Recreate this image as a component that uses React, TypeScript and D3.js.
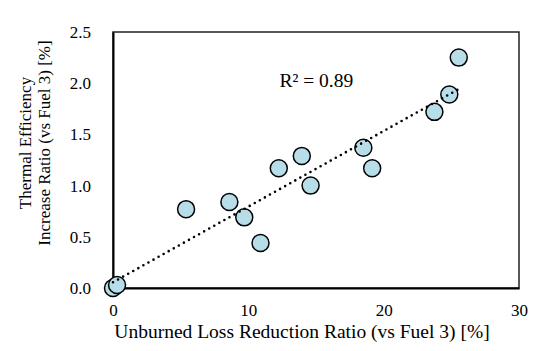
import React, { useEffect, useRef } from 'react'
import * as d3 from 'd3'

// unburned loss reduction ratio vs Fuel 3 [%]
const unburnedReduction = [0, 0.3, 5.4, 8.6, 9.7, 10.9, 12.25, 13.95, 14.6, 18.5, 19.15, 23.75, 24.85, 25.55]
// thermal efficiency increase ratio vs Fuel 3 [%]
const efficiencyIncrease = [0, 0.03, 0.77, 0.84, 0.69, 0.44, 1.17, 1.29, 1.0, 1.37, 1.17, 1.72, 1.89, 2.25]

const xTicks = [0, 10, 20, 30]
const yTicks = [0, 0.5, 1.0, 1.5, 2.0, 2.5]
const r2Label = 'R² = 0.89'
const xTitle = 'Unburned Loss Reduction Ratio (vs Fuel 3) [%]'
const yTitleLines = ['Thermal Efficiency', 'Increase Ratio (vs Fuel 3) [%]']

const width = 552
const height = 351
const font = '"Liberation Serif", "Times New Roman", serif'

const App = () => {
    const ref = useRef(null)

    useEffect(() => {
        const svg = d3.select(ref.current)
        svg.selectAll('*').remove()

        const margin = { top: 32, right: 33, bottom: 63, left: 113 }
        const innerWidth = width - margin.left - margin.right
        const innerHeight = height - margin.top - margin.bottom

        const x = d3.scaleLinear().domain([0, 30]).range([0, innerWidth])
        const y = d3.scaleLinear().domain([0, 2.5]).range([innerHeight, 0])

        const data = unburnedReduction.map((v, i) => ({ x: v, y: efficiencyIncrease[i] }))

        const g = svg.append('g')
            .attr('transform', `translate(${margin.left}, ${margin.top})`)

        // plot area border
        g.append('rect')
            .attr('width', innerWidth)
            .attr('height', innerHeight)
            .attr('fill', 'none')
            .attr('stroke', '#222')
            .attr('stroke-width', 1.5)

        // axes without tick marks
        const yAxisG = g.append('g')
            .call(d3.axisLeft(y).tickValues(yTicks).tickFormat(d3.format('.1f')).tickSize(0).tickPadding(22))
        const xAxisG = g.append('g')
            .attr('transform', `translate(0, ${innerHeight})`)
            .call(d3.axisBottom(x).tickValues(xTicks).tickFormat(d3.format('d')).tickSize(0).tickPadding(16))

        ;[yAxisG, xAxisG].forEach(a => {
            a.attr('font-family', font)
            a.select('.domain').attr('stroke', '#000').attr('stroke-width', 2)
            a.selectAll('text')
                .attr('font-family', font)
                .attr('font-size', 17)
                .attr('fill', '#000')
        })

        // linear trendline (least squares)
        const mx = d3.mean(data, d => d.x)
        const my = d3.mean(data, d => d.y)
        const slope = d3.sum(data, d => (d.x - mx) * (d.y - my)) / d3.sum(data, d => (d.x - mx) ** 2)
        const intercept = my - slope * mx
        const [x0, x1] = d3.extent(data, d => d.x)

        g.selectAll('circle')
            .data(data)
            .enter().append('circle')
                .attr('cx', d => x(d.x))
                .attr('cy', d => y(d.y))
                .attr('r', 8.5)
                .attr('fill', '#b7dde8')
                .attr('stroke', '#000')
                .attr('stroke-width', 1.5)

        g.append('path')
            .attr('d', d3.line()([[x(x0), y(intercept + slope * x0)], [x(x1), y(intercept + slope * x1)]]))
            .attr('stroke', '#000')
            .attr('stroke-width', 2.6)
            .attr('stroke-linecap', 'round')
            .attr('stroke-dasharray', '0 5.8')
            .attr('fill', 'none')

        g.append('text')
            .attr('x', x(12.3))
            .attr('y', y(1.96))
            .attr('font-family', font)
            .attr('font-size', 19.5)
            .text(r2Label)

        // axis titles
        svg.append('text')
            .attr('x', 302)
            .attr('y', 338)
            .attr('text-anchor', 'middle')
            .attr('font-family', font)
            .attr('font-size', 19.5)
            .text(xTitle)

        svg.append('g')
            .attr('transform', 'translate(0, 143) rotate(-90)')
            .selectAll('text')
            .data(yTitleLines)
            .enter().append('text')
                .attr('x', 0)
                .attr('y', (d, i) => 31 + i * 19)
                .attr('text-anchor', 'middle')
                .attr('font-family', font)
                .attr('font-size', 17)
                .text(d => d)
    }, [])

    return (
        <div>
            <svg ref={ref} width={width} height={height}
                style={{ position: 'absolute', left: 0, top: 0, background: '#fff' }} />
        </div>
    )
}

export default App
